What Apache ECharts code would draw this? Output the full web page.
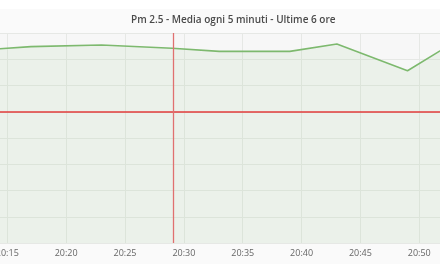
<!DOCTYPE html>
<html>
<head>
<meta charset="utf-8">
<script src="https://cdn.jsdelivr.net/npm/echarts@6/dist/echarts.min.js"></script>
<style>
html,body{margin:0;padding:0;background:#fff;}
#c{width:440px;height:264px;}
</style>
</head>
<body>
<div id="c"></div>
<script>
// Data: minutes past 20:00 and PM2.5 values
const titleText = "Pm 2.5 - Media ogni 5 minuti - Ultime 6 ore";
const minutes = [11, 17, 23, 29, 33, 39, 43, 49, 53];
const pm25 = [36.5, 37.4, 37.7, 37.1, 36.5, 36.5, 37.9, 32.8, 38.3];
const thresholdValue = 25;
const markerMinute = 29.13;
const hourLabel = 20;

function pad(n){ return (n < 10 ? "0" : "") + n; }

const seriesData = minutes.map((m, i) => [m, pm25[i]]);

// axis scale: 5-minute ticks 11.771 px apart, 20:15 at x = 7.3
const pxPerMin = 11.771;
const axisMin = 10, axisMax = 55;
const gridLeft = 7.3 - (15 - axisMin) * pxPerMin;
const gridRight = 440 - (gridLeft + (axisMax - axisMin) * pxPerMin);

const chart = echarts.init(document.getElementById('c'), null, {renderer: 'canvas'});
chart.setOption({
  backgroundColor: '#fafafa',
  animation: false,
  textStyle: {fontFamily: 'Open Sans'},
  graphic: [{
    type: 'rect', left: 0, top: 0, z: -10,
    shape: {width: 440, height: 9},
    style: {fill: '#ffffff'}
  }, {
    type: 'rect', left: 0, top: 33, z: -9, silent: true,
    shape: {width: 440, height: 210},
    style: {fill: '#f7f7f7'}
  }],
  title: {
    text: titleText,
    left: 131,
    top: 15,
    padding: 0,
    textStyle: {fontFamily: 'Open Sans', fontSize: 10, fontWeight: 600, color: '#4a4a4a'}
  },
  grid: {
    left: gridLeft, right: gridRight, top: 33, bottom: 21,
    show: false,
    containLabel: false,
    outerBoundsMode: 'none'
  },
  xAxis: {
    type: 'value',
    min: axisMin, max: axisMax, interval: 5,
    axisLine: {show: false},
    axisTick: {show: false},
    splitLine: {show: true, lineStyle: {color: '#e6e8e5', width: 1}},
    axisLabel: {
      margin: 6,
      fontFamily: 'Open Sans', fontSize: 9, color: '#666',
      formatter: function (v) {
        return hourLabel + ":" + pad(v);
      }
    }
  },
  yAxis: {
    type: 'value',
    min: 0, max: 40, interval: 5,
    axisLine: {show: false},
    axisTick: {show: false},
    axisLabel: {show: false},
    splitLine: {show: true, lineStyle: {color: '#e6e8e5', width: 1}}
  },
  series: [{
    type: 'line',
    data: seriesData,
    showSymbol: false,
    symbol: 'none',
    clip: true,
    lineStyle: {color: '#7db96e', width: 1.6},
    areaStyle: {color: 'rgba(126,185,110,0.09)', opacity: 1},
    markLine: {
      silent: true,
      symbol: 'none',
      label: {show: false},
      data: [
        {yAxis: thresholdValue, lineStyle: {color: '#e23b3b', width: 1.6, type: 'solid'}},
        {xAxis: markerMinute, lineStyle: {color: '#e07070', width: 1.3, type: 'solid', opacity: 1}}
      ]
    }
  }]
});
</script>
</body>
</html>
